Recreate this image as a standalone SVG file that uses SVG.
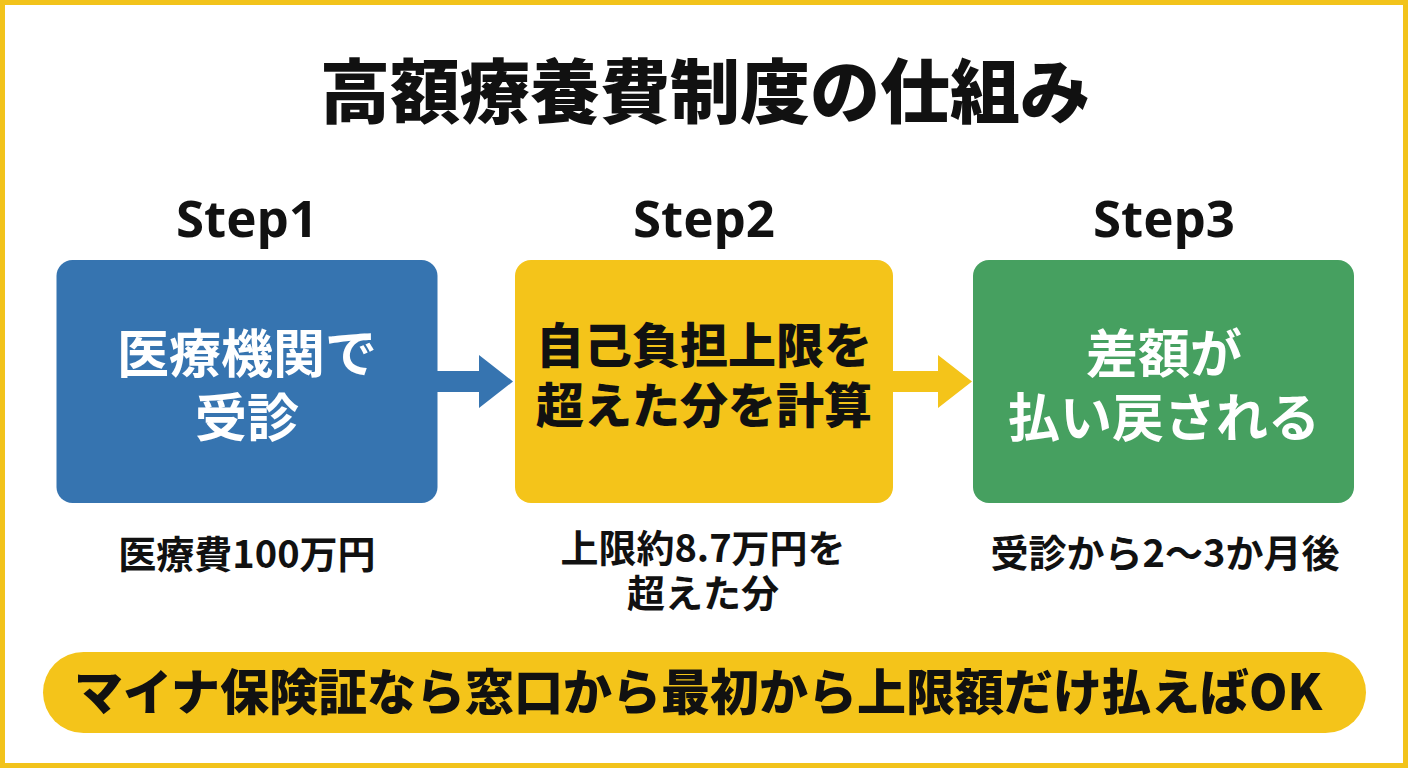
<svg xmlns="http://www.w3.org/2000/svg" width="1408" height="768" viewBox="0 0 1408 768">
  <style>
    .jp { font-family: "Noto Sans CJK JP", "Noto Sans", sans-serif; text-anchor: middle; }
    .title { font-size: 70px; font-weight: 900; fill: #111111; }
    .step { font-family: "Noto Sans", "Noto Sans CJK JP", sans-serif; font-size: 51px; font-weight: 700; fill: #111111; text-anchor: middle; }
    .boxw { font-size: 52px; font-weight: 700; fill: #ffffff; }
    .boxk { font-size: 48px; font-weight: 900; fill: #111111; }
    .sub { font-size: 38px; font-weight: 700; fill: #111111; }
    .banner { font-size: 49px; font-weight: 900; fill: #111111; }
  </style>
  <rect x="0" y="0" width="1408" height="768" fill="#ffffff"/>
  <rect x="2.5" y="2.5" width="1403" height="763" fill="none" stroke="#F2C31B" stroke-width="5"/>

  <g id="title">
    <text class="jp title" x="705" y="118">高額療養費制度の仕組み</text>
  </g>

  <g id="connectors">
    <path d="M437,371 H479 V355 L513,381.5 L479,408 V392 H437 Z" fill="#3674B0"/>
    <path d="M893,371 H938 V355 L972,381.5 L938,408 V392 H893 Z" fill="#F4C41A"/>
  </g>

  <g id="step1">
    <text class="step" x="247" y="237">Step1</text>
    <rect x="56.5" y="260" width="381" height="243" rx="16" fill="#3674B0"/>
    <text class="jp boxw" x="247" y="373">医療機関で</text>
    <text class="jp boxw" x="247" y="437">受診</text>
    <text class="jp sub" x="247" y="568">医療費100万円</text>
  </g>

  <g id="step2">
    <text class="step" x="704" y="237">Step2</text>
    <rect x="515" y="260" width="378" height="243" rx="16" fill="#F4C41A"/>
    <text class="jp boxk" x="704" y="363">自己負担上限を</text>
    <text class="jp boxk" x="704" y="423">超えた分を計算</text>
    <text class="jp sub" x="703" y="562">上限約8.7万円を</text>
    <text class="jp sub" x="703" y="607">超えた分</text>
  </g>

  <g id="step3">
    <text class="step" x="1164" y="237">Step3</text>
    <rect x="973" y="260" width="381" height="243" rx="16" fill="#46A060"/>
    <text class="jp boxw" x="1164" y="373">差額が</text>
    <text class="jp boxw" x="1164" y="437">払い戻される</text>
    <text class="jp sub" x="1165" y="567">受診から2〜3か月後</text>
  </g>

  <g id="banner">
    <rect x="43" y="652" width="1323" height="81" rx="40.5" fill="#F4C41A"/>
    <text class="jp banner" x="698" y="710">マイナ保険証なら窓口から最初から上限額だけ払えばOK</text>
  </g>
</svg>
